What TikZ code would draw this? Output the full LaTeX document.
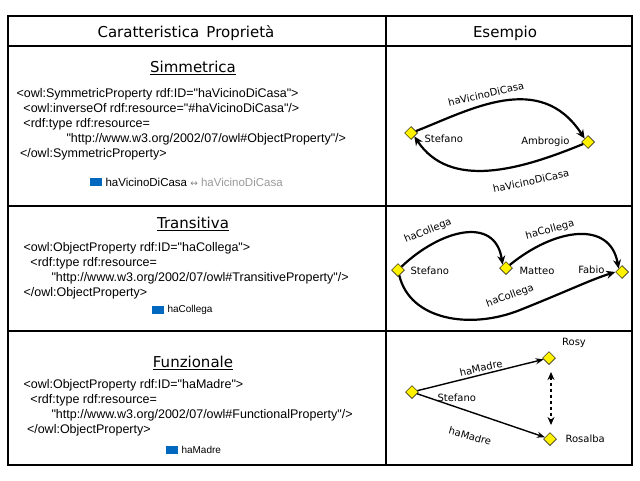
\documentclass[tikz,border=0pt]{standalone}
\usepackage{fontspec}
\setmainfont{DejaVu Sans}
\newfontfamily\code{Liberation Sans}
\usetikzlibrary{shapes.geometric,arrows.meta}
\begin{document}
\begin{tikzpicture}[x=1pt,y=-1pt,
 dia/.style={diamond,draw=black,fill=yellow,inner sep=0pt,minimum size=13pt,line width=0.5pt},
 lbl/.style={font=\fontsize{10}{11}\selectfont},
 edge/.style={line width=2.2pt,-{Stealth[length=9pt,width=8pt]}},
 thin/.style={line width=1.4pt,-{Stealth[length=8pt,width=6pt]}},
 head/.style={font=\fontsize{15}{17}\selectfont},
 code/.style={anchor=west,align=left,font=\code\fontsize{12.5}{15}\selectfont},
 icon/.style={fill=blue!45!cyan!75!black,minimum width=12pt,minimum height=8pt,inner sep=0pt}]
\useasboundingbox (0,0) rectangle (640,480);
\fill[white] (0,0) rectangle (640,480);
\draw[line width=1.3pt] (8,16) rectangle (632,465);
\draw[line width=1.3pt] (386,16) -- (386,465);
\draw[line width=1.3pt] (8,46) -- (632,46) (8,206) -- (632,206) (8,331) -- (632,331);
\node[head] (h1) at (186,33) {Caratteristica\, Proprietà};
\node[head] (h2) at (505,33) {Esempio};
% left column
\node[head] (t1) at (193,68) {\underline{Simmetrica}};
\node[code] (c1) at (13,124) {<owl:SymmetricProperty rdf:ID="haVicinoDiCasa">\\
\ \ <owl:inverseOf rdf:resource="\#haVicinoDiCasa"/>\\
\ \ <rdf:type rdf:resource=\\
\hspace{50pt}"http://www.w3.org/2002/07/owl\#ObjectProperty"/>\\
\ </owl:SymmetricProperty>};
\node[icon] (i1) at (96,182) {};
\node[anchor=west,font=\code\fontsize{11.5}{12}\selectfont] (l1) at (102,182) {haVicinoDiCasa {\color{gray}\fontspec{DejaVu Sans}\small↔} \color{gray!80}haVicinoDiCasa};
\node[head] (t2) at (193,224) {\underline{Transitiva}};
\node[code] (c2) at (20,271) {<owl:ObjectProperty rdf:ID="haCollega">\\
\ \ <rdf:type rdf:resource=\\
\hspace{28pt}"http://www.w3.org/2002/07/owl\#TransitiveProperty"/>\\
</owl:ObjectProperty>};
\node[icon] (i2) at (158,310) {};
\node[anchor=west,font=\code\fontsize{10}{10}\selectfont] (l2) at (164,310) {haCollega};
\node[head] (t3) at (193,363) {\underline{Funzionale}};
\node[code] (c3) at (20,408) {<owl:ObjectProperty rdf:ID="haMadre">\\
\ \ <rdf:type rdf:resource=\\
\hspace{28pt}"http://www.w3.org/2002/07/owl\#FunctionalProperty"/>\\
\ </owl:ObjectProperty>};
\node[icon] (i3) at (172,450) {};
\node[anchor=west,font=\code\fontsize{10}{10}\selectfont] (l3) at (178,450) {haMadre};
% symmetric
\node[dia] (s1) at (411,133) {};
\node[dia] (a1) at (588,142) {};
\node[lbl,anchor=west] (s1l) at (421,139) {Stefano};
\node[lbl,anchor=east] (a1l) at (573,142) {Ambrogio};
\draw[edge] (s1) .. controls (470,110) and (540,70) .. (a1.north west);
\draw[edge] (a1) .. controls (520,170) and (450,190) .. (s1.south east);
\node[lbl,rotate=13] (e1) at (486,94) {haVicinoDiCasa};
\node[lbl,rotate=12] (e2) at (531,181) {haVicinoDiCasa};
% transitive
\node[dia] (s2) at (398,270) {};
\node[dia] (m2) at (506,268) {};
\node[dia] (f2) at (622,272) {};
\node[lbl,anchor=west] (s2l) at (407,271) {Stefano};
\node[lbl,anchor=west] (m2l) at (516,271) {Matteo};
\node[lbl,anchor=east] (f2l) at (608,270) {Fabio};
\draw[edge] (s2) .. controls (440,230) and (495,215) .. (m2.north west);
\draw[edge] (m2) .. controls (555,228) and (610,220) .. (f2.north west);
\draw[edge] (s2) .. controls (410,320) and (470,330) .. (520,310) .. controls (570,290) and (590,280) .. (f2.west);
\node[lbl,rotate=22] (e3) at (428,231) {haCollega};
\node[lbl,rotate=15] (e4) at (550,230) {haCollega};
\node[lbl,rotate=20] (e5) at (510,296) {haCollega};
% functional
\node[dia] (s3) at (412,392) {};
\node[dia] (r3) at (549,358) {};
\node[dia] (b3) at (550,439) {};
\node[lbl,anchor=west] (s3l) at (434,398) {Stefano};
\node[lbl] (r3l) at (574,343) {Rosy};
\node[lbl,anchor=west] (b3l) at (562,439) {Rosalba};
\draw[thin] (s3) -- (r3);
\draw[thin] (s3) -- (b3);
\draw[line width=1.8pt,dashed,{Stealth[length=8pt,width=7pt]}-{Stealth[length=8pt,width=7pt]}] (r3) ++(2,14) coordinate (dtop) (b3) ++(1,-14) coordinate (dbot) (dtop) -- (dbot);
\node[lbl,rotate=13] (e6) at (481,368) {haMadre};
\node[lbl,rotate=-16] (e7) at (470,436) {haMadre};
\end{tikzpicture}
\end{document}
